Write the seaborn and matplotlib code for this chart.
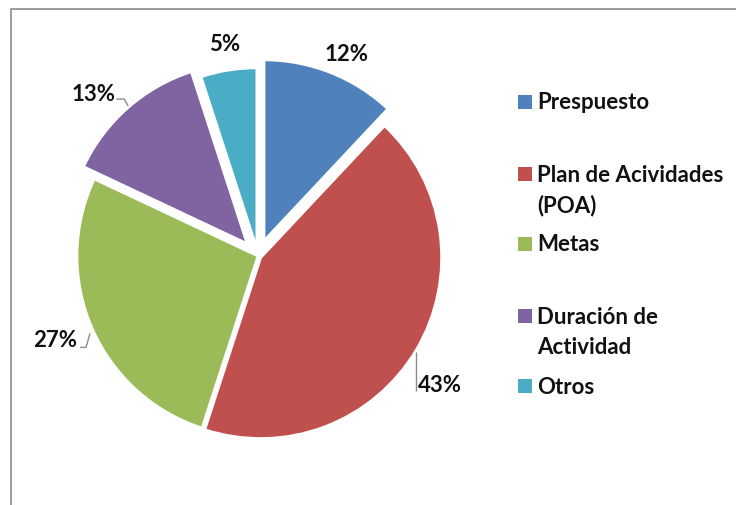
import matplotlib
matplotlib.use("Agg")
import matplotlib.pyplot as plt
from matplotlib.lines import Line2D
from matplotlib.patches import Rectangle
import seaborn as sns
import numpy as np

# Data
categories = ["Prespuesto", "Plan de Acividades\n(POA)", "Metas",
              "Duración de\nActividad", "Otros"]
values = [12, 43, 27, 13, 5]
palette_hex = ["#4F81BD", "#C0504D", "#9BBB59", "#8064A2", "#4BACC6"]

sns.set_theme(style="white")
plt.rcParams["font.family"] = ["Lato", "DejaVu Sans"]
colors = sns.color_palette(palette_hex)

W, H = 736, 506
fig = plt.figure(figsize=(W / 100, H / 100), dpi=100)
fig.patch.set_facecolor("white")

# Pie centre in pixels and radius in pixels; axes span whole figure
cx, cy, R = 258, 249, 181
ax = fig.add_axes([0, 0, 1, 1])
explode = [0.09, 0.017, 0.0, 0.09, 0.04]
wedges, _ = ax.pie(values, colors=colors, startangle=90, counterclock=False,
                   explode=explode, radius=1.0,
                   wedgeprops=dict(edgecolor="white", linewidth=2))
ax.set_xlim(-cx / R, (W - cx) / R)
ax.set_ylim(-cy / R, (H - cy) / R)
ax.set_aspect("auto")
ax.axis("off")

txt_kw = dict(fontsize=16, fontweight="bold", color="#111111")

# Percentage labels placed around the pie (radius, angle offset in degrees)
label_layout = [(1.22, 2.0), (1.23, 4.5), (1.21, 1.0), (1.28, -4.0), (1.19, 0.0)]
total = sum(values)
start = 0.0
for v, (r, dth) in zip(values, label_layout):
    mid = (start + v / 2) / total * 360.0 + dth
    start += v
    th = np.deg2rad(mid)
    ax.text(r * np.sin(th), r * np.cos(th), f"{v}%", ha="center", va="center",
            **txt_kw)

# Leader lines
lead_kw = dict(color="#8c8c8c", lw=1.0, solid_capstyle="butt")
ax.plot([-0.783, -0.739, -0.717], [0.867, 0.867, 0.828], **lead_kw)
ax.plot([-0.983, -0.950, -0.928], [-0.505, -0.505, -0.427], **lead_kw)
ax.plot([0.872, 0.872], [-0.528, -0.745], **lead_kw)

# Legend drawn in figure pixel space
legend_rows = [(103, 0), (175, 1), (245, 2), (317, 3), (387, 4)]
line_gap = 31
for y_px, i in legend_rows:
    fig.add_artist(Rectangle((518 / W, 1 - (y_px + 7) / H), 14 / W, 14 / H,
                             transform=fig.transFigure, facecolor=colors[i],
                             edgecolor="none"))
    for k, line in enumerate(categories[i].split("\n")):
        fig.text(537 / W, 1 - (y_px + k * line_gap) / H, line, ha="left",
                 va="center", **txt_kw)

# Outer frame lines (left and top)
fig.add_artist(Line2D([10.5 / W, 10.5 / W, 1.0], [0.0, 1 - 10 / H, 1 - 10 / H],
                      transform=fig.transFigure, color="#8c8c8c", lw=1.2))

fig.savefig("out.png", dpi=100, facecolor="white")
